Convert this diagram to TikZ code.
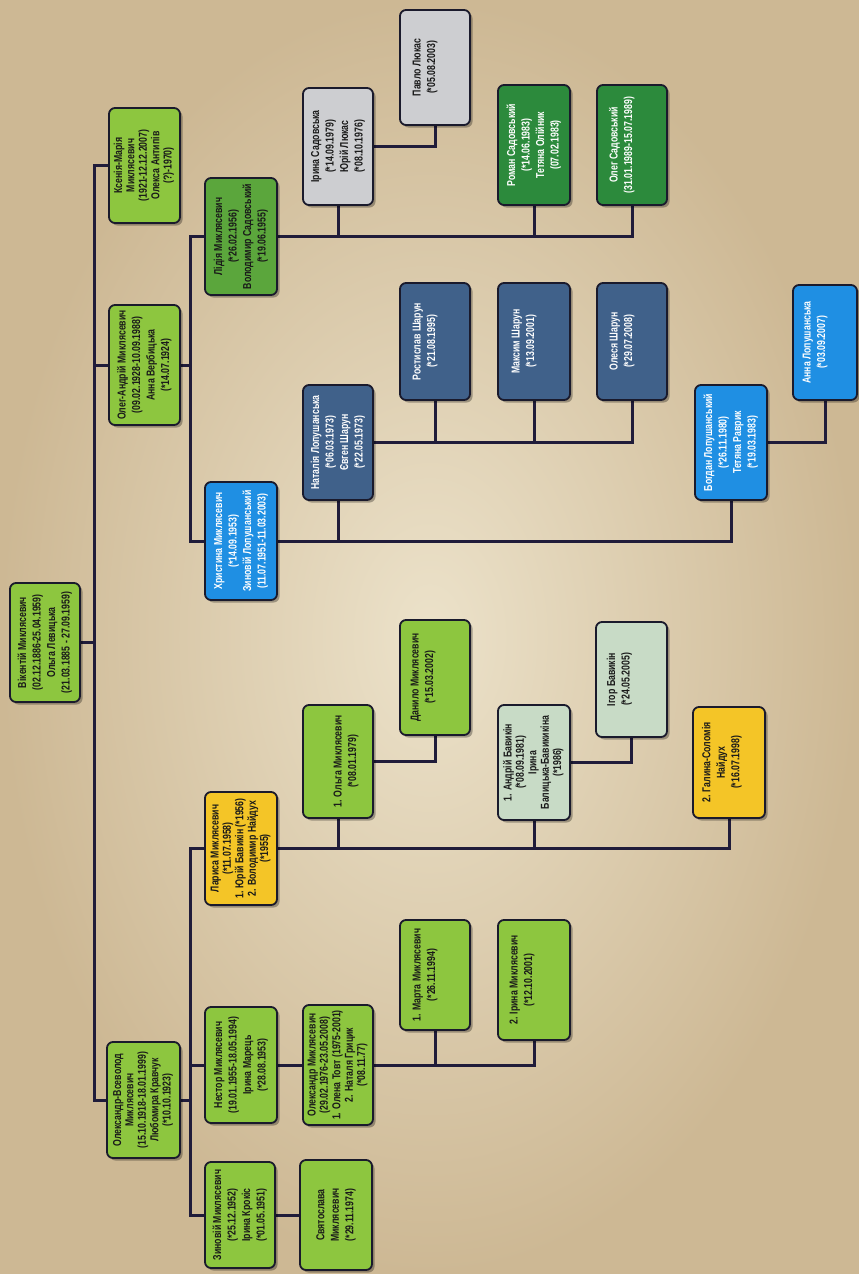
\documentclass[tikz,border=0pt]{standalone}
\usepackage{fontspec}
\usepackage{graphicx}
\newfontfamily\bx{Liberation Sans}[FakeStretch=0.76]
\usetikzlibrary{shadows}
\definecolor{bgin}{HTML}{ECE2CA}
\definecolor{bgout}{HTML}{CDB894}
\definecolor{lgreen}{HTML}{8DC63F}
\definecolor{mgreen}{HTML}{5BA63C}
\definecolor{dgreen}{HTML}{2C8A3C}
\definecolor{yel}{HTML}{F4C527}
\definecolor{mint}{HTML}{C8DBC6}
\definecolor{lgray}{HTML}{CDCED1}
\definecolor{slate}{HTML}{40618A}
\definecolor{blu}{HTML}{1F8FE3}
\definecolor{edge}{HTML}{1A1A2C}
\definecolor{wire}{HTML}{201C3A}
\newcommand\rt[2][0pt]{\rotatebox{90}{\raisebox{\dimexpr#1-2.9pt\relax}[0pt][0pt]{\begin{tabular}{@{}c@{}}#2\end{tabular}}}}
\pgfdeclarelayer{back}
\pgfdeclarelayer{wires}
\pgfsetlayers{back,wires,main}
\begin{document}
\begin{tikzpicture}[x=1pt,y=1pt,
  pb/.style={draw=edge, line width=1.8pt, rounded corners=6pt, inner sep=0pt,
    text=black!90, font=\bx\bfseries\fontsize{11.5}{14.5}\selectfont,
    drop shadow={shadow xshift=2.5pt, shadow yshift=-2.5pt, opacity=0.3, fill=black}},
  tight/.style={font=\bx\bfseries\fontsize{11.5}{12.4}\selectfont},
  dark/.style={text=white},
  conn/.style={draw=wire, line width=3pt, line join=miter}]
\useasboundingbox (0,-1274) rectangle (859,0);
\begin{pgfonlayer}{back}
\shade[inner color=bgin, outer color=bgout] (0,-1274) rectangle (859,0);
\end{pgfonlayer}

% generation 1
\node[pb, fill=lgreen, minimum width=70, minimum height=119] (root) at (45,-642.5)
 {\rt{Вікентій Миклясевич\\(02.12.1886-25.04.1959)\\Ольга Левицька\\(21.03.1885 - 27.09.1959)}};
% generation 2
\node[pb, tight, fill=lgreen, minimum width=71, minimum height=115] (ks) at (144.5,-165.5)
 {\rt{Ксенія-Марія\\Миклясевич\\(1921-12.12.2007)\\Олекса Антипів\\(?)-1970)}};
\node[pb, fill=lgreen, minimum width=71, minimum height=120] (oleg) at (144.5,-365)
 {\rt{Олег-Андрій Миклясевич\\(09.02.1928-10.09.1988)\\Анна Вербицька\\(*14.07.1924)}};
\node[pb, tight, fill=lgreen, minimum width=73, minimum height=116] (osv) at (143.5,-1100)
 {\rt{Олександр-Всеволод\\Миклясевич\\(15.10.1918-18.01.1999)\\Любомира Кравчук\\(*10.10.1923)}};
% generation 3
\node[pb, fill=mgreen, minimum width=72, minimum height=117] (lid) at (241,-236.5)
 {\rt{Лідія Миклясевич\\(*26.02.1956)\\Володимир Садовський\\(*19.06.1955)}};
\node[pb, dark, fill=blu, minimum width=72, minimum height=118] (khr) at (241,-541)
 {\rt{Христина Миклясевич\\(*14.09.1953)\\Зиновій Лопушанський\\(11.07.1951-11.03.2003)}};
\node[pb, tight, fill=yel, minimum width=72, minimum height=113] (lar) at (241,-848.5)
 {\rt{Лариса Миклясевич\\(*11.07.1958)\\1. Юрій Бавикін (*1956)\\2. Володимир Найдух\\(*1955)}};
\node[pb, fill=lgreen, minimum width=72, minimum height=116] (nes) at (241,-1065)
 {\rt{Нестор Миклясевич\\(19.01.1955-18.05.1994)\\Ірина Марець\\(*28.08.1953)}};
\node[pb, fill=lgreen, minimum width=70, minimum height=106] (zyn) at (240,-1215)
 {\rt{Зиновій Миклясевич\\(*25.12.1952)\\Ірина Крокіс\\(*01.05.1951)}};
% generation 4
\node[pb, fill=lgray, minimum width=70, minimum height=117] (irs) at (338,-146.5)
 {\rt{Ірина Садовська\\(*14.09.1979)\\Юрій Люкас\\(*08.10.1976)}};
\node[pb, dark, fill=dgreen, minimum width=72, minimum height=120] (rom) at (534,-145)
 {\rt{Роман Садовський\\(*14.06.1983)\\Тетяна Олійник\\(07.02.1983)}};
\node[pb, dark, fill=dgreen, minimum width=70, minimum height=120] (osd) at (632,-145)
 {\rt[10pt]{Олег Садовський\\(31.01.1989-15.07.1989)}};
\node[pb, dark, fill=slate, minimum width=70, minimum height=115] (nat) at (338,-442.5)
 {\rt{Наталія Лопушанська\\(*06.03.1973)\\Євген Шарун\\(*22.05.1973)}};
\node[pb, dark, fill=blu, minimum width=72, minimum height=115] (bog) at (731,-442.5)
 {\rt{Богдан Лопушанський\\(*26.11.1980)\\Тетяна Раврик\\(*19.03.1983)}};
\node[pb, fill=lgreen, minimum width=70, minimum height=113] (olg) at (338,-761.5)
 {\rt[-8pt]{1. Ольга Миклясевич\\(*08.01.1979)}};
\node[pb, tight, fill=mint, minimum width=72, minimum height=115] (andr) at (534,-762.5)
 {\rt{1. Андрій Бавикін\\(*08.09.1981)\\Ірина\\Балицька-Бавикикіна\\(*1986)}};
\node[pb, fill=yel, minimum width=72, minimum height=111] (gal) at (729,-762.5)
 {\rt[7pt]{2. Галина-Соломія\\Найдух\\(*16.07.1998)}};
\node[pb, tight, fill=lgreen, minimum width=70, minimum height=120] (oma) at (338,-1065)
 {\rt{Олександр Миклясевич\\(29.02.1976-23.05.2008)\\1. Олена Товт (1975-2001)\\2. Наталя Грицик\\(*08.11.77)}};
\node[pb, fill=lgreen, minimum width=72, minimum height=110] (svy) at (336,-1215)
 {\rt{Святослава\\Миклясевич\\(*29.11.1974)}};
% generation 5
\node[pb, fill=lgray, minimum width=70, minimum height=115] (pav) at (435,-67.5)
 {\rt[10pt]{Павло Люкас\\(*05.08.2003)}};
\node[pb, dark, fill=slate, minimum width=70, minimum height=117] (ros) at (435,-341.5)
 {\rt[10pt]{Ростислав Шарун\\(*21.08.1995)}};
\node[pb, dark, fill=slate, minimum width=72, minimum height=117] (maks) at (534,-341.5)
 {\rt[10pt]{Максим Шарун\\(*13.09.2001)}};
\node[pb, dark, fill=slate, minimum width=70, minimum height=117] (oles) at (632,-341.5)
 {\rt[10pt]{Олеся Шарун\\(*29.07.2008)}};
\node[pb, dark, fill=blu, minimum width=64, minimum height=115] (ann) at (825,-342.5)
 {\rt[10pt]{Анна Лопушанська\\(*03.09.2007)}};
\node[pb, fill=lgreen, minimum width=70, minimum height=115] (dan) at (435,-677.5)
 {\rt[12pt]{Данило Миклясевич\\(*15.03.2002)}};
\node[pb, fill=mint, minimum width=71, minimum height=115] (igo) at (631.5,-679.5)
 {\rt[12pt]{Ігор Бавикін\\(*24.05.2005)}};
\node[pb, fill=lgreen, minimum width=70, minimum height=110] (mar) at (435,-975)
 {\rt[10pt]{1. Марта Миклясевич\\(*26.11.1994)}};
\node[pb, fill=lgreen, minimum width=72, minimum height=120] (iri) at (534,-980)
 {\rt[12pt]{2. Ірина Миклясевич\\(*12.10.2001)}};

\coordinate (tr) at (94,0);
\coordinate (lv) at (190,0);
\begin{pgfonlayer}{wires}
% trunk
\draw[conn] (ks.west) -| (osv.west -| tr) -- (osv.west);
\draw[conn] (root.east) -- (root.east -| tr);
\draw[conn] (oleg.west) -- (oleg.west -| tr);
% Oleh-Andrii branch
\draw[conn] (oleg.east) -- (oleg.east -| lv);
\draw[conn] (lid.west) -| (khr.west -| lv) -- (khr.west);
\draw[conn] (lid.east) -| (osd.south);
\draw[conn] (irs.south) -- (irs.south |- lid.east);
\draw[conn] (rom.south) -- (rom.south |- lid.east);
\draw[conn] (irs.east) -| (pav.south);
\draw[conn] (khr.east) -| (bog.south);
\draw[conn] (nat.south) -- (nat.south |- khr.east);
\draw[conn] (nat.east) -| (oles.south);
\draw[conn] (ros.south) -- (ros.south |- nat.east);
\draw[conn] (maks.south) -- (maks.south |- nat.east);
\draw[conn] (bog.east) -| (ann.south);
% Oleksandr-Vsevolod branch
\draw[conn] (osv.east) -- (osv.east -| lv);
\draw[conn] (lar.west) -| (zyn.west -| lv) -- (zyn.west);
\draw[conn] (nes.west) -- (nes.west -| lv);
\draw[conn] (lar.east) -| (gal.south);
\draw[conn] (olg.south) -- (olg.south |- lar.east);
\draw[conn] (andr.south) -- (andr.south |- lar.east);
\draw[conn] (olg.east) -| (dan.south);
\draw[conn] (andr.east) -| (igo.south);
\draw[conn] (nes.east) -- (oma.west);
\draw[conn] (oma.east) -| (iri.south);
\draw[conn] (mar.south) -- (mar.south |- oma.east);
\draw[conn] (zyn.east) -- (svy.west);
\end{pgfonlayer}
\end{tikzpicture}
\end{document}
